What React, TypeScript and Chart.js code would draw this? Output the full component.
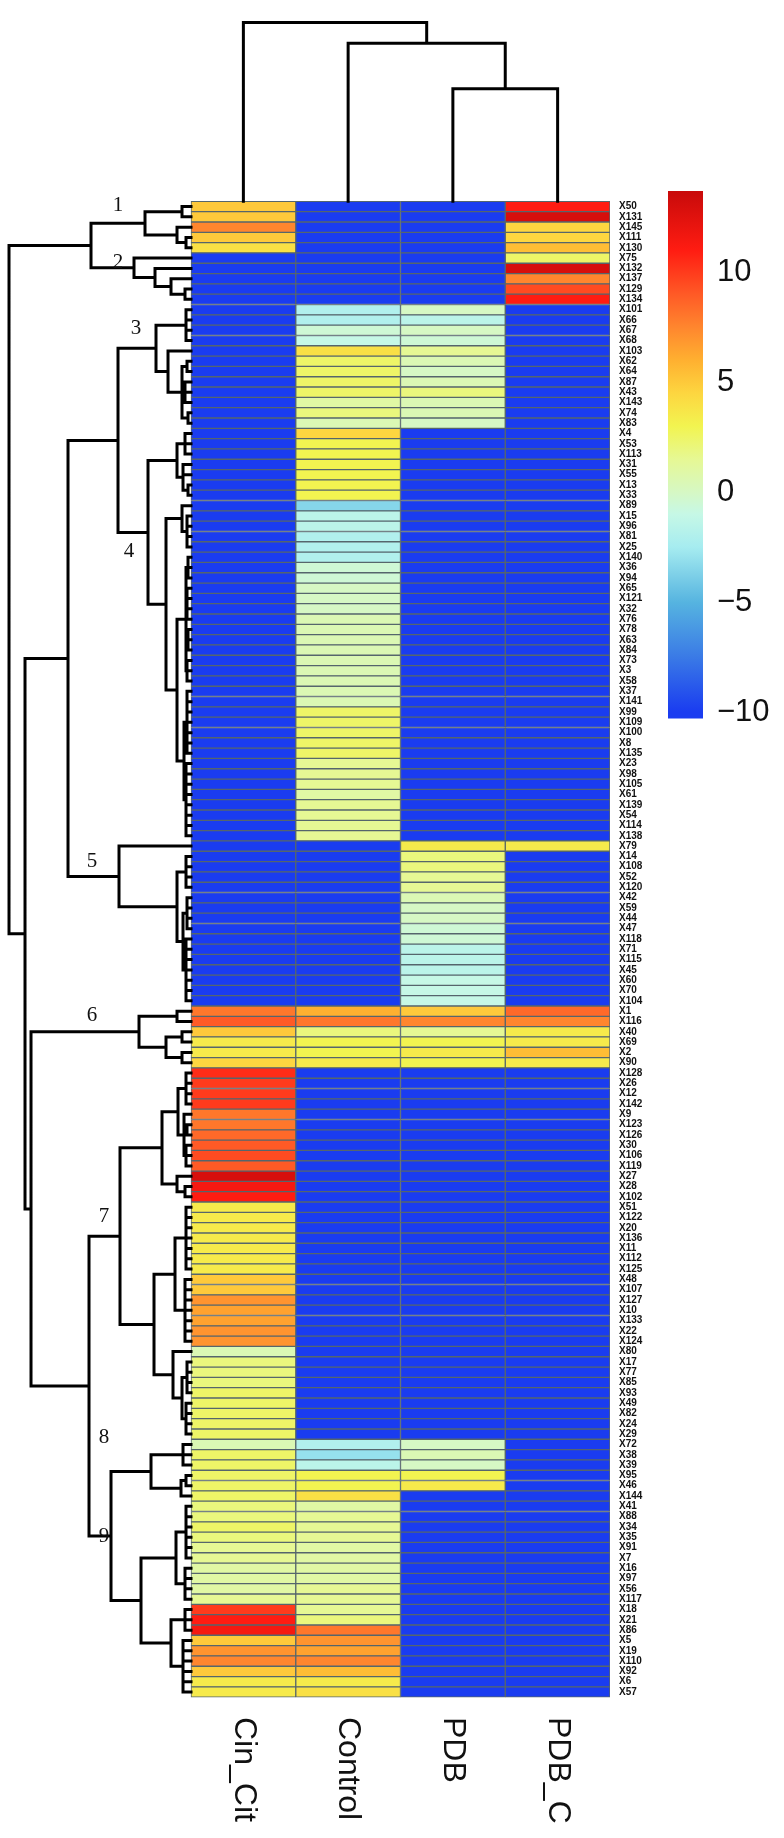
import React, { useEffect, useRef } from "react";
import { Chart, registerables } from "chart.js";
Chart.register(...registerables);

// ---------------- data ----------------
const rowLabels = [
  "X50","X131","X145","X111","X130","X75","X132","X137","X129","X134",
  "X101","X66","X67","X68","X103","X62","X64","X87","X43","X143",
  "X74","X83","X4","X53","X113","X31","X55","X13","X33","X89",
  "X15","X96","X81","X25","X140","X36","X94","X65","X121","X32",
  "X76","X78","X63","X84","X73","X3","X58","X37","X141","X99",
  "X109","X100","X8","X135","X23","X98","X105","X61","X139","X54",
  "X114","X138","X79","X14","X108","X52","X120","X42","X59","X44",
  "X47","X118","X71","X115","X45","X60","X70","X104","X1","X116",
  "X40","X69","X2","X90","X128","X26","X12","X142","X9","X123",
  "X126","X30","X106","X119","X27","X28","X102","X51","X122","X20",
  "X136","X11","X112","X125","X48","X107","X127","X10","X133","X22",
  "X124","X80","X17","X77","X85","X93","X49","X82","X24","X29",
  "X72","X38","X39","X95","X46","X144","X41","X88","X34","X35",
  "X91","X7","X16","X97","X56","X117","X18","X21","X86","X5",
  "X19","X110","X92","X6","X57",
];

const columnLabels = ["Cin_Cit", "Control", "PDB", "PDB_C"];

const cinCit = [
  5, 5, 7.5, 5, 4, -10, -10, -10, -10, -10,
  -10, -10, -10, -10, -10, -10, -10, -10, -10, -10,
  -10, -10, -10, -10, -10, -10, -10, -10, -10, -10,
  -10, -10, -10, -10, -10, -10, -10, -10, -10, -10,
  -10, -10, -10, -10, -10, -10, -10, -10, -10, -10,
  -10, -10, -10, -10, -10, -10, -10, -10, -10, -10,
  -10, -10, -10, -10, -10, -10, -10, -10, -10, -10,
  -10, -10, -10, -10, -10, -10, -10, -10, 8, 9,
  5, 3.5, 3.5, 4.5, 10.5, 10, 10, 10, 8, 8,
  8.5, 9, 9.5, 9, 13, 11.5, 11, 3.5, 3.5, 3.5,
  3.5, 3.5, 3.5, 3.5, 5, 5, 7, 6.5, 6.5, 7,
  7, 0.5, 2, 2, 2, 2.5, 2.5, 2.5, 2.5, 2.5,
  0.5, 2.5, 2.5, 2.5, 2.5, 2.5, 2, 2, 2.5, 2,
  1.5, 1.5, 1, 1, 1, 1.5, 10, 11, 11.5, 5,
  7, 7.5, 5, 3.5, 3.5,
];

const control = [
  -10, -10, -10, -10, -10, -10, -10, -10, -10, -10,
  -2, -2, -0.5, -1, 4, 2.5, 2.5, 2.5, 2.5, 1,
  2, 0.5, 4.5, 3, 3, 3, 3, 3, 3, -3.5,
  -1.5, -1.5, -2, -2, -2, -0.5, -0.5, 0, 0, 0,
  0.5, 0.5, 0.5, 0.5, 0.5, 0.5, 0.5, 0.5, 0.5, 2.5,
  2.5, 2.5, 2.5, 2.5, 1.5, 1.5, 1.5, 1, 1.5, 1.5,
  1.5, 1.5, -10, -10, -10, -10, -10, -10, -10, -10,
  -10, -10, -10, -10, -10, -10, -10, -10, 6, 8,
  2, 3, 3, 3.5, -10, -10, -10, -10, -10, -10,
  -10, -10, -10, -10, -10, -10, -10, -10, -10, -10,
  -10, -10, -10, -10, -10, -10, -10, -10, -10, -10,
  -10, -10, -10, -10, -10, -10, -10, -10, -10, -10,
  -2, -3, -1.5, 3, 3, 4, 1, 1.5, 1.5, 1.5,
  1, 1, 1, 1, 1.5, 1.5, 1.5, 2, 8, 7,
  6.5, 7.5, 5.5, 3.5, 4,
];

const pdb = [
  -10, -10, -10, -10, -10, -10, -10, -10, -10, -10,
  0, -1.5, 0, -0.5, 1.5, 0.5, 0, 0.5, 2, 0.5,
  0.5, 0, -10, -10, -10, -10, -10, -10, -10, -10,
  -10, -10, -10, -10, -10, -10, -10, -10, -10, -10,
  -10, -10, -10, -10, -10, -10, -10, -10, -10, -10,
  -10, -10, -10, -10, -10, -10, -10, -10, -10, -10,
  -10, -10, 3.5, 2, 2, 1.5, 1.5, 0.5, 0, 0,
  -0.5, -0.5, -1.5, -1.5, -1.5, -1, -1, -1, 5, 7.5,
  1.5, 3, 3.5, 3, -10, -10, -10, -10, -10, -10,
  -10, -10, -10, -10, -10, -10, -10, -10, -10, -10,
  -10, -10, -10, -10, -10, -10, -10, -10, -10, -10,
  -10, -10, -10, -10, -10, -10, -10, -10, -10, -10,
  0, 0.5, 0, 3, 3.5, -10, -10, -10, -10, -10,
  -10, -10, -10, -10, -10, -10, -10, -10, -10, -10,
  -10, -10, -10, -10, -10,
];

const pdbC = [
  11, 13, 4.5, 4.5, 5.5, 2.5, 13, 7.5, 9.5, 11,
  -10, -10, -10, -10, -10, -10, -10, -10, -10, -10,
  -10, -10, -10, -10, -10, -10, -10, -10, -10, -10,
  -10, -10, -10, -10, -10, -10, -10, -10, -10, -10,
  -10, -10, -10, -10, -10, -10, -10, -10, -10, -10,
  -10, -10, -10, -10, -10, -10, -10, -10, -10, -10,
  -10, -10, 3.5, -10, -10, -10, -10, -10, -10, -10,
  -10, -10, -10, -10, -10, -10, -10, -10, 8.5, 7.5,
  3.5, 3.5, 5.5, 3.5, -10, -10, -10, -10, -10, -10,
  -10, -10, -10, -10, -10, -10, -10, -10, -10, -10,
  -10, -10, -10, -10, -10, -10, -10, -10, -10, -10,
  -10, -10, -10, -10, -10, -10, -10, -10, -10, -10,
  -10, -10, -10, -10, -10, -10, -10, -10, -10, -10,
  -10, -10, -10, -10, -10, -10, -10, -10, -10, -10,
  -10, -10, -10, -10, -10,
];

const colorTicks = [-10, -5, 0, 5, 10];
const colorMin = -10.3;
const colorMax = 13.7;
const colorStops: [number, string][] = [
  [-10.3, "#1a3cf0"],
  [-10, "#1a3cf0"],
  [-7.5, "#3a7ae6"],
  [-5, "#56b4e0"],
  [-2.5, "#a6ecf0"],
  [-1, "#c6f8e6"],
  [0, "#d6f8c4"],
  [1.5, "#e6f894"],
  [3, "#f2f450"],
  [4.5, "#fdd640"],
  [6, "#ffb030"],
  [7.5, "#ff862e"],
  [9, "#ff5a26"],
  [11, "#ff1c12"],
  [13.7, "#c80a0a"],
];

// dendrograms: node = leaf row index or { h: merge height, c: children }
type Node = number | { h: number; c: Node[] };
const N = (h: number, ...c: Node[]): Node => ({ h, c });

const c1 = N(46, N(9, 0, 1), N(14, 2, N(5, 3, 4)));
const c2 = N(57, 5, N(36, 6, N(20, 7, N(6, 8, 9))));
const c3 = N(35, N(5, 10, 11, 12, 13), N(23, 14, N(9, N(4, 15, 16), N(6, 17, 18, 19), N(3, 20, 21))));
const c4 = N(43,
  N(14, N(6, 22, 23, 24), N(8, 25, 26, N(3, 27, 28))),
  N(25,
    N(9, 29, N(4, 30, 31, 32, 33)),
    N(14,
      N(5, N(3, 34, 35, 36), N(4, 37, 38, 39, 40), N(3, 41, 42, 43), N(4, 44, 45, 46)),
      N(7, N(4, 47, 48, 49, 50, 51, 52, 53), N(5, 54, 55, 56, 57, 58, 59, 60, 61)))));
const c5 = N(72, 62, N(14, N(5, 63, 64, 65, 66), N(8, N(4, 67, 68, 69, 70), N(5, 71, 72, 73, 74, 75, 76, 77))));
const c6 = N(52, N(14, 78, 79), N(25, N(9, 80, 81), N(9, 82, 83)));
const c7 = N(71,
  N(29,
    N(13, N(5, 84, 85, 86, 87), N(7, 88, N(4, 89, 90), N(5, 91, 92, 93))),
    N(14, 94, N(6, 95, 96))),
  N(37,
    N(16, N(5, 97, 98, 99, 100, 101, 102, 103), N(6, 104, 105, 106, 107, 108, 109, 110)),
    N(18, 111, N(9, N(4, 112, 113, 114, 115), N(5, 116, 117, 118, 119)))));
const c8 = N(40, N(8, 120, 121, 122), N(10, N(5, 123, 124), 125));
const c9 = N(50,
  N(15, N(5, 126, 127, 128, 129, 130, 131), N(6, 132, 133, 134, 135)),
  N(20, N(6, 136, 137, 138), N(8, 139, 140, 141, 142, 143, 144)));
const rowTree = N(182,
  N(100, c1, c2),
  N(166, N(123, N(73, c3, c4), c5), N(160, c6, N(102, c7, N(80, c8, c9)))));

const colTree = N(181, 0, N(160, 1, N(114, 2, 3)));

const clusterNames = ["1", "2", "3", "4", "5", "6", "7", "8", "9"];
const clusterAnchors: [number, number][] = [
  [-0.1, 73], [5.4, 73], [11.8, 55], [33.4, 62], [63.5, 99],
  [78.4, 99], [97.9, 87], [119.3, 87], [128.9, 87],
];

// ---------------- helpers ----------------
const PX_PER_COL = 104.75;
const PX_PER_ROW = 10.434;

function hexRgb(h: string) {
  const n = parseInt(h.slice(1), 16);
  return [(n >> 16) & 255, (n >> 8) & 255, n & 255];
}
function colorFor(v: number) {
  const x = Math.max(colorMin, Math.min(colorMax, v));
  for (let i = 1; i < colorStops.length; i++) {
    const [v1, c1s] = colorStops[i];
    const [v0, c0s] = colorStops[i - 1];
    if (x <= v1) {
      const t = v1 === v0 ? 0 : (x - v0) / (v1 - v0);
      const a = hexRgb(c0s), b = hexRgb(c1s);
      const c = a.map((q, k) => Math.round(q + (b[k] - q) * t));
      return `rgb(${c[0]},${c[1]},${c[2]})`;
    }
  }
  return colorStops[colorStops.length - 1][1];
}

type Pt = { x: number | null; y: number | null };
const GAP: Pt = { x: null, y: null };
function layout(node: Node, pts: Pt[], map: (pos: number, h: number) => Pt): { pos: number; h: number } {
  if (typeof node === "number") return { pos: node, h: 0 };
  const kids = node.c.map((k) => layout(k, pts, map));
  const first = kids[0].pos;
  const last = kids[kids.length - 1].pos;
  pts.push(map(first, node.h), map(last, node.h), GAP);
  kids.forEach((k) => pts.push(map(k.pos, k.h), map(k.pos, node.h), GAP));
  return { pos: (first + last) / 2, h: node.h };
}

const SANS = '"Liberation Sans", Arial, sans-serif';
const SERIF = '"Liberation Serif", "DejaVu Serif", serif';

function mainConfig(): any {
  const rowPts: Pt[] = [];
  layout(rowTree, rowPts, (pos, h) => ({ x: -h / PX_PER_COL, y: pos }));
  const colPts: Pt[] = [];
  layout(colTree, colPts, (pos, h) => ({ x: pos + 0.5, y: -0.5 - h / PX_PER_ROW }));

  const heat = [cinCit, control, pdb, pdbC];
  const barSets = heat.map((vals, c) => ({
    type: "bar",
    label: columnLabels[c],
    data: vals.map((_, i) => ({ x: [c, c + 1], y: i })),
    backgroundColor: vals.map(colorFor),
    borderColor: "#56666c",
    borderWidth: 1,
    borderSkipped: false,
    grouped: false,
    barPercentage: 1,
    categoryPercentage: 1,
    order: 2,
  }));
  const lineStyle = {
    type: "line",
    borderColor: "#000",
    borderWidth: 3,
    pointRadius: 0,
    fill: false,
    tension: 0,
    spanGaps: false,
    borderCapStyle: "square",
    borderJoinStyle: "miter",
    clip: false,
    order: 1,
  };

  const labelPlugin = {
    id: "extraText",
    afterDraw(chart: any) {
      const { ctx, scales, chartArea } = chart;
      ctx.save();
      ctx.fillStyle = "#111";
      ctx.font = `32px ${SANS}`;
      ctx.textAlign = "left";
      ctx.textBaseline = "middle";
      columnLabels.forEach((lab, c) => {
        const px = scales.x.getPixelForValue(c + 0.5);
        ctx.save();
        ctx.translate(px, chartArea.bottom + 14);
        ctx.rotate(Math.PI / 2);
        ctx.fillText(lab, 0, 0);
        ctx.restore();
      });
      ctx.font = `21px ${SERIF}`;
      ctx.textAlign = "center";
      clusterNames.forEach((t, i) => {
        const [row, h] = clusterAnchors[i];
        ctx.fillText(t, scales.x.getPixelForValue(-h / PX_PER_COL), scales.y.getPixelForValue(row));
      });
      ctx.restore();
    },
  };

  return {
    type: "bar",
    data: {
      datasets: [
        ...barSets,
        { ...lineStyle, label: "rows", data: rowPts },
        { ...lineStyle, label: "cols", data: colPts },
      ],
    },
    options: {
      responsive: false,
      animation: false,
      events: [],
      indexAxis: "y",
      layout: { padding: { left: 7.7, top: 7.4, bottom: 135, right: 0 } },
      plugins: { legend: { display: false }, tooltip: { enabled: false } },
      scales: {
        x: {
          type: "linear",
          min: -1.75,
          max: 4,
          display: false,
        },
        y: {
          type: "linear",
          position: "right",
          reverse: true,
          min: -18,
          max: 144.5,
          afterBuildTicks: (s: any) => {
            s.ticks = rowLabels.map((_, i) => ({ value: i }));
          },
          afterFit: (s: any) => {
            s.width = 174;
          },
          ticks: {
            autoSkip: false,
            padding: 9,
            color: "#111",
            font: { size: 10, weight: "bold", family: SANS },
            callback: (v: number) => rowLabels[v] ?? "",
          },
          grid: { display: false, drawTicks: false },
          border: { display: false },
        },
      },
    },
    plugins: [labelPlugin],
  };
}

function barConfig(): any {
  return {
    type: "bar",
    data: {
      labels: [""],
      datasets: [
        {
          data: [[colorMin, colorMax]],
          borderWidth: 0,
          barPercentage: 1,
          categoryPercentage: 1,
          backgroundColor: (ctx: any) => {
            const chart = ctx.chart;
            const { chartArea, scales } = chart;
            if (!chartArea) return "transparent";
            const y0 = scales.y.getPixelForValue(colorMin);
            const y1 = scales.y.getPixelForValue(colorMax);
            const g = chart.ctx.createLinearGradient(0, y0, 0, y1);
            colorStops.forEach(([v, c]) => g.addColorStop((v - colorMin) / (colorMax - colorMin), c));
            return g;
          },
        },
      ],
    },
    options: {
      responsive: false,
      animation: false,
      events: [],
      layout: { padding: { left: 28, top: 191, bottom: 41.4, right: 0 } },
      plugins: { legend: { display: false }, tooltip: { enabled: false } },
      scales: {
        x: { display: false },
        y: {
          position: "right",
          min: colorMin,
          max: colorMax,
          afterBuildTicks: (s: any) => {
            s.ticks = colorTicks.map((v) => ({ value: v }));
          },
          afterFit: (s: any) => {
            s.width = 81;
          },
          ticks: {
            padding: 14,
            color: "#111",
            font: { size: 31, family: SANS },
            callback: (v: number) => (v < 0 ? "\u2212" + Math.abs(v) : String(v)),
          },
          grid: { display: false, drawTicks: false },
          border: { display: false },
        },
      },
    },
  };
}

export default function App() {
  const mainRef = useRef<HTMLCanvasElement>(null);
  const barRef = useRef<HTMLCanvasElement>(null);
  useEffect(() => {
    const main = new Chart(mainRef.current as HTMLCanvasElement, mainConfig());
    const bar = new Chart(barRef.current as HTMLCanvasElement, barConfig());
    return () => {
      main.destroy();
      bar.destroy();
    };
  }, []);
  return (
    <div style={{ position: "absolute", left: 0, top: 0, width: 784, height: 1838, background: "#fff" }}>
      <canvas ref={mainRef} width={784} height={1838} style={{ position: "absolute", left: 0, top: 0 }} />
      <canvas ref={barRef} width={144} height={760} style={{ position: "absolute", left: 640, top: 0 }} />
    </div>
  );
}
